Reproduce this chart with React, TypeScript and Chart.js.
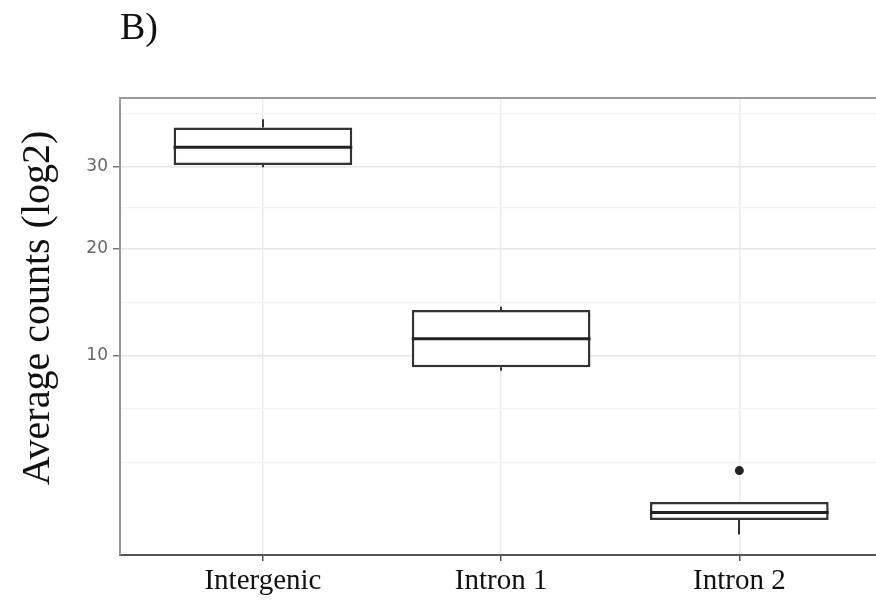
import React, { useEffect, useRef } from "react";
import { Chart, registerables } from "chart.js";

Chart.register(...registerables);

// ---- data (original units; the axis uses a square-root transform) ----
const categories = ["Intergenic", "Intron 1", "Intron 2"];
const whiskerLow = [29.96, 8.87, 0.94];
const quartile1 = [30.27, 9.12, 1.31];
const medians = [32.71, 11.36, 1.53];
const quartile3 = [35.57, 13.86, 1.87];
const whiskerHigh = [36.76, 14.16, 1.87];
const outlierCategory = [3];
const outlierValues = [3.07];
const yTickValues = [10, 20, 30];
const yRange = [0.5135, 40.0];
const xRange = [0.4, 3.58];

const tr = (v: number) => Math.sqrt(v);

// ggplot-style minor breaks in transformed space
const majorS = yTickValues.map(tr);
const stepS = majorS[1] - majorS[0];
const extS = [majorS[0] - stepS, ...majorS, majorS[majorS.length - 1] + stepS];
const minorS: number[] = [];
for (let i = 0; i < extS.length - 1; i++) {
  if (i === 0) minorS.push(extS[0]);
  minorS.push((extS[i] + extS[i + 1]) / 2);
}
const isMajor = (s: number) => majorS.some((m) => Math.abs(m - s) < 1e-6);

const SERIF = "'Liberation Serif', 'Times New Roman', serif";

const extrasPlugin = {
  id: "boxExtras",
  beforeDatasetsDraw(chart: any) {
    const { ctx, scales } = chart;
    const x = scales.x;
    const y = scales.y;
    ctx.save();
    ctx.strokeStyle = "#333";
    ctx.lineWidth = 2;
    categories.forEach((_, i) => {
      const px = Math.round(x.getPixelForValue(i + 1));
      ctx.beginPath();
      ctx.moveTo(px, y.getPixelForValue(tr(whiskerHigh[i])));
      ctx.lineTo(px, y.getPixelForValue(tr(quartile3[i])));
      ctx.moveTo(px, y.getPixelForValue(tr(quartile1[i])));
      ctx.lineTo(px, y.getPixelForValue(tr(whiskerLow[i])));
      ctx.stroke();
    });
    ctx.restore();
  },
  afterDatasetsDraw(chart: any) {
    const { ctx, scales } = chart;
    const y = scales.y;
    const meta = chart.getDatasetMeta(0);
    ctx.save();
    ctx.strokeStyle = "#222";
    ctx.lineWidth = 3;
    meta.data.forEach((bar: any, i: number) => {
      const w = bar.width;
      const py = y.getPixelForValue(tr(medians[i]));
      ctx.beginPath();
      ctx.moveTo(bar.x - w / 2, py);
      ctx.lineTo(bar.x + w / 2, py);
      ctx.stroke();
    });
    ctx.restore();
  },
  afterDraw(chart: any) {
    const { ctx, chartArea } = chart;
    ctx.save();
    // top panel border
    ctx.strokeStyle = "#9a9a9a";
    ctx.lineWidth = 2;
    ctx.beginPath();
    ctx.moveTo(chartArea.left - 1, chartArea.top);
    ctx.lineTo(chartArea.right, chartArea.top);
    ctx.stroke();
    // panel label
    ctx.fillStyle = "#111";
    ctx.font = `38px ${SERIF}`;
    ctx.textBaseline = "alphabetic";
    ctx.textAlign = "left";
    ctx.fillText("B)", 120, 39);
    // y title
    ctx.translate(38, 308);
    ctx.rotate(-Math.PI / 2);
    ctx.font = `40px ${SERIF}`;
    ctx.textAlign = "center";
    ctx.textBaseline = "middle";
    ctx.fillText("Average counts (log2)", 0, 0);
    ctx.restore();
  },
};

export default function App() {
  const ref = useRef<HTMLCanvasElement | null>(null);

  useEffect(() => {
    if (!ref.current) return;
    const chart = new Chart(ref.current, {
      type: "bar",
      data: {
        datasets: [
          {
            type: "bar",
            data: categories.map((_, i) => ({
              x: i + 1,
              y: [tr(quartile1[i]), tr(quartile3[i])],
            })) as any,
            backgroundColor: "#ffffff",
            borderColor: "#333",
            borderWidth: 2.5,
            borderSkipped: false,
            barPercentage: 0.75,
            categoryPercentage: 1,
            grouped: false,
          } as any,
          {
            type: "scatter",
            data: outlierCategory.map((c, i) => ({ x: c, y: tr(outlierValues[i]) })),
            pointRadius: 4.5,
            backgroundColor: "#222",
            borderWidth: 0,
          } as any,
        ],
      },
      options: {
        responsive: false,
        animation: false,
        devicePixelRatio: 1,
        layout: { padding: { top: 98, left: 0, right: 0, bottom: 0 } },
        plugins: {
          legend: { display: false },
          tooltip: { enabled: false },
          title: { display: false },
        },
        scales: {
          x: {
            type: "linear",
            min: xRange[0],
            max: xRange[1],
            offset: false,
            afterBuildTicks: (scale: any) => {
              scale.ticks = categories.map((_, i) => ({ value: i + 1 }));
            },
            afterFit: (scale: any) => {
              scale.height = 45;
              scale.paddingLeft = 0;
              scale.paddingRight = 0;
            },
            ticks: {
              autoSkip: false,
              maxRotation: 0,
              padding: 3,
              color: "#111",
              font: { family: SERIF, size: 29 },
              callback: (v: any) => categories[Math.round(Number(v)) - 1] ?? "",
            },
            grid: {
              color: "#ebebeb",
              lineWidth: 1.5,
              drawTicks: true,
              tickLength: 6,
              tickColor: "#555",
              offset: false,
            },
            border: { display: true, color: "#555", width: 2 },
          },
          y: {
            type: "linear",
            min: tr(yRange[0]),
            max: tr(yRange[1]),
            afterBuildTicks: (scale: any) => {
              const vals = [...minorS, ...majorS].sort((a, b) => a - b);
              scale.ticks = vals.map((v) => ({ value: v }));
            },
            afterFit: (scale: any) => {
              scale.width = 120;
              scale.paddingTop = 0;
              scale.paddingBottom = 0;
            },
            ticks: {
              autoSkip: false,
              padding: 5,
              color: "#666",
              font: { family: "'DejaVu Sans', sans-serif", size: 17 },
              callback: (v: any) => {
                const s = Number(v);
                if (!isMajor(s)) return "";
                return String(Math.round(s * s));
              },
            },
            grid: {
              color: (c: any) => (isMajor(c.tick?.value) ? "#e6e6e6" : "#f3f3f3"),
              lineWidth: (c: any) => (isMajor(c.tick?.value) ? 1.5 : 1.2),
              drawTicks: true,
              tickLength: 7,
              tickColor: (c: any) => (isMajor(c.tick?.value) ? "#777" : "rgba(0,0,0,0)"),
            },
            border: { display: true, color: "#9a9a9a", width: 2 },
          },
        },
      } as any,
      plugins: [extrasPlugin],
    });
    return () => chart.destroy();
  }, []);

  return (
    <div
      style={{
        position: "fixed",
        left: 0,
        top: 0,
        width: 876,
        height: 600,
        overflow: "hidden",
        background: "#ffffff",
      }}
    >
      <canvas ref={ref} width={882} height={600} style={{ display: "block" }} />
    </div>
  );
}
